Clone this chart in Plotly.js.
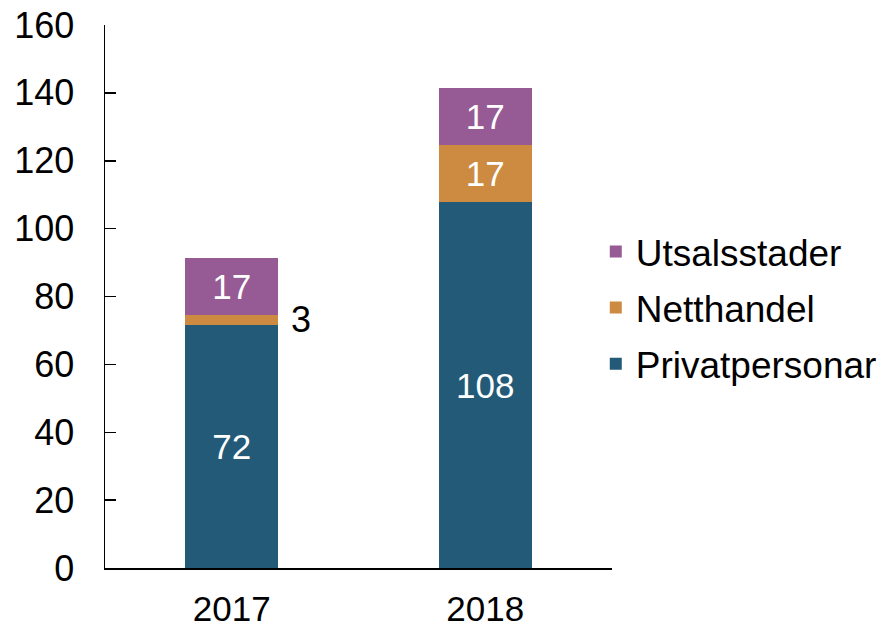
<!DOCTYPE html>
<html>
<head>
<meta charset="utf-8">
<script src="https://cdn.plot.ly/plotly-3.0.1.min.js"></script>
<style>html,body{margin:0;padding:0;background:#fff}#chart{width:885px;height:628px}</style>
</head>
<body>
<div id="chart"></div>
<script>
const categories = ['2017', '2018'];
const privatpersonar = [71.6, 107.7];
const netthandel = [3.0, 16.9];
const utsalsstader = [16.6, 16.7];
const privatLabels = ['72', '108'];
const netthandelLabels = ['', '17'];
const utsalsLabels = ['17', '17'];
const outsideLabelText = '3';
const yTicks = [0, 20, 40, 60, 80, 100, 120, 140, 160];

const font = 'Liberation Sans, Arial, sans-serif';
const barWidth = 0.365;
const insideFont = {family: font, size: 35, color: '#ffffff'};

function barTrace(name, y, text, color, rank) {
  return {
    type: 'bar', name: name, x: categories, y: y, text: text,
    legendgroup: name, legendrank: rank,
    textposition: 'inside', insidetextanchor: 'middle', textangle: 0,
    constraintext: 'none', textfont: insideFont,
    marker: {color: color, line: {width: 0}},
    width: barWidth, hoverinfo: 'skip'
  };
}

const data = [
  barTrace('Privatpersonar', privatpersonar, privatLabels, '#235A78', 3),
  barTrace('Netthandel', netthandel, netthandelLabels, '#CD8A41', 2),
  barTrace('Utsalsstader', utsalsstader, utsalsLabels, '#965B95', 1)
];

const layout = {
  width: 885, height: 628,
  margin: {l: 105, r: 273, t: 25, b: 60, autoexpand: false},
  paper_bgcolor: '#fff', plot_bgcolor: '#fff',
  barmode: 'stack',
  font: {family: font, size: 35, color: '#000'},
  showlegend: true,
  legend: {
    traceorder: 'grouped', tracegroupgap: 5,
    x: 0.968, xanchor: 'left', y: 0.479, yanchor: 'middle',
    font: {family: font, size: 37, color: '#000'}, bgcolor: 'rgba(0,0,0,0)'
  },
  xaxis: {
    type: 'category', range: [-0.5, 1.5], showline: true, linecolor: '#000', linewidth: 1.5,
    ticks: '', showgrid: false, zeroline: false, ticklabelstandoff: 9,
    tickfont: {family: font, size: 35, color: '#000'}
  },
  yaxis: {
    range: [0, 160], tickvals: yTicks, ticktext: yTicks.map(String),
    showline: true, linecolor: '#000', linewidth: 1.5,
    ticks: 'inside', ticklen: 11, tickwidth: 1.5, tickcolor: '#000',
    showgrid: false, zeroline: false, ticklabelstandoff: 22,
    tickfont: {family: font, size: 36, color: '#000'}
  },
  annotations: [{
    x: 0, y: privatpersonar[0] + netthandel[0] / 2,
    xref: 'x', yref: 'y', text: outsideLabelText, showarrow: false,
    xanchor: 'left', yanchor: 'middle', xshift: 57,
    font: {family: font, size: 36, color: '#000'}
  }]
};

Plotly.newPlot('chart', data, layout, {staticPlot: true, displayModeBar: false});
</script>
</body>
</html>
